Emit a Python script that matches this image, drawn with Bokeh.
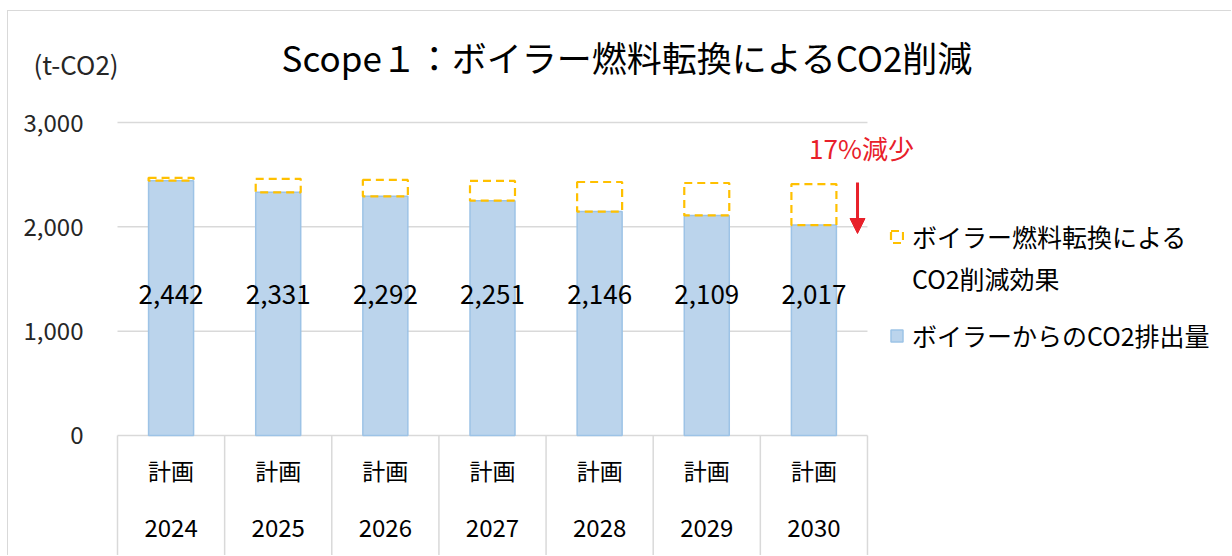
from bokeh.plotting import figure
from bokeh.models import (ColumnDataSource, FixedTicker, NumeralTickFormatter, Range1d,
                          Label, Legend, LegendItem, Arrow, NormalHead)
from bokeh.embed import file_html
from bokeh.resources import INLINE
from bokeh.core.properties import value

# ---- data ----
years = ["2024", "2025", "2026", "2027", "2028", "2029", "2030"]
plan_label = "計画"
emissions = [2442, 2331, 2292, 2251, 2146, 2109, 2017]
reductions = [28, 129, 158, 189, 284, 311, 393]
y_ticks = [0, 1000, 2000, 3000]
title_text = "Scope１：ボイラー燃料転換によるCO2削減"
unit_label = "(t-CO2)"
legend_reduction_1 = "ボイラー燃料転換による"
legend_reduction_2 = "CO2削減効果"
legend_emission = "ボイラーからのCO2排出量"
callout_text = "17%減少"

# ---- styles ----
FONT = "Noto Sans CJK JP"
BLUE_FILL = "#BBD4EC"
BLUE_LINE = "#9DC3E6"
YELLOW = "#FFC000"
RED = "#E8202A"
GRID = "#D9D9D9"
TEXT = "#000000"

X_START, X_END = -1.5174, 9.907
Y_TOP, Y_BOT = 4064.0, -1159.8
LABEL_Y = 1351
PLAN_Y = -335
YEAR_Y = -891

n = len(years)
idx = list(range(n))
totals = [e + r for e, r in zip(emissions, reductions)]
src = ColumnDataSource(dict(
    x=idx, emis=emissions, total=totals,
    lab=[f"{v:,}" for v in emissions],
    year=years, plan=[plan_label] * n,
))
sep_x = [i - 0.5 for i in range(n + 1)]
x_lo, x_hi = -0.5, n - 0.5

p = figure(width=1224, height=545,
           x_range=Range1d(X_START, X_END),
           y_range=Range1d(Y_BOT, Y_TOP),
           x_axis_location=None,
           output_backend="svg", toolbar_location=None,
           min_border_left=0, min_border_right=0,
           min_border_top=0, min_border_bottom=0)
p.styles = {"margin-left": "7px", "margin-top": "10px",
            "border-top": f"1px solid {GRID}", "border-left": f"1px solid {GRID}"}
p.outline_line_color = None
p.background_fill_color = "white"
p.border_fill_color = "white"
p.grid.grid_line_color = None

# y axis (drawn at the left edge of the bar area)
p.yaxis.fixed_location = x_lo
p.yaxis.ticker = FixedTicker(ticks=y_ticks)
p.yaxis.formatter = NumeralTickFormatter(format="0,0")
p.yaxis.axis_line_color = None
p.yaxis.major_tick_line_color = None
p.yaxis.minor_tick_line_color = None
p.yaxis.major_label_standoff = 28
p.yaxis.major_label_text_font = FONT
p.yaxis.major_label_text_font_size = "24px"
p.yaxis.major_label_text_color = "#262626"

# horizontal grid lines over the bar area
p.segment(x0=[x_lo] * len(y_ticks), y0=y_ticks, x1=[x_hi] * len(y_ticks), y1=y_ticks,
          line_color=GRID, line_width=1.5)
# category separators
p.segment(x0=sep_x, y0=[0] * len(sep_x), x1=sep_x, y1=[Y_BOT] * len(sep_x),
          line_color=GRID, line_width=1.5)

# bars
r_emis = p.vbar(x="x", top="emis", bottom=0, width=0.42, source=src,
                fill_color=BLUE_FILL, line_color=BLUE_LINE, line_width=1.5)
r_red = p.vbar(x="x", top="total", bottom="emis", width=0.42, source=src,
               fill_color=None, line_color=YELLOW, line_width=2.2, line_dash="8 5")
r_blank = p.vbar(x=[], top=[], width=0.42, fill_alpha=0, line_alpha=0)

# data labels
p.text(x="x", y=LABEL_Y, text="lab", source=src, text_align="center",
       text_baseline="middle", text_font=value(FONT), text_font_size="26px",
       text_color=TEXT)

# category labels
p.text(x="x", y=PLAN_Y, text="plan", source=src, text_align="center",
       text_baseline="middle", text_font=value(FONT), text_font_size="23px",
       text_color=TEXT)
p.text(x="x", y=YEAR_Y, text="year", source=src, text_align="center",
       text_baseline="middle", text_font=value(FONT), text_font_size="24px",
       text_color=TEXT)

# title and unit
p.add_layout(Label(x=4.26, y=3635, text=title_text, text_font=FONT,
                   text_font_size="35px", text_color=TEXT,
                   text_align="center", text_baseline="middle"))
p.add_layout(Label(x=-1.284, y=3566, text=unit_label, text_font=FONT,
                   text_font_size="26px", text_color="#262626",
                   text_align="left", text_baseline="middle"))

# callout
p.add_layout(Label(x=6.444, y=2761, text=callout_text, text_font=FONT,
                   text_font_size="26px", text_color=RED,
                   text_align="center", text_baseline="middle"))
p.add_layout(Arrow(x_start=6.407, y_start=2425, x_end=6.407, y_end=1936,
                   line_color=RED, line_width=3,
                   end=NormalHead(size=15, fill_color=RED, line_color=RED)))

def make_legend(items, loc, spacing):
    lg = Legend(items=items, location=loc, orientation="vertical")
    lg.border_line_color = None
    lg.background_fill_color = None
    lg.padding = 0
    lg.margin = 0
    lg.spacing = spacing
    lg.glyph_width = 15
    lg.glyph_height = 15
    lg.label_standoff = 8
    lg.label_height = 30
    lg.label_text_font = FONT
    lg.label_text_font_size = "25px"
    lg.label_text_color = TEXT
    lg.label_text_baseline = "middle"
    return lg

p.add_layout(make_legend([LegendItem(label=legend_reduction_1, renderers=[r_red]),
                          LegendItem(label=legend_reduction_2, renderers=[r_blank])],
                         (881, 260), 6))
p.add_layout(make_legend([LegendItem(label=legend_emission, renderers=[r_emis])],
                         (881, 203), 0))

open("out.html", "w").write(file_html(p, INLINE))
